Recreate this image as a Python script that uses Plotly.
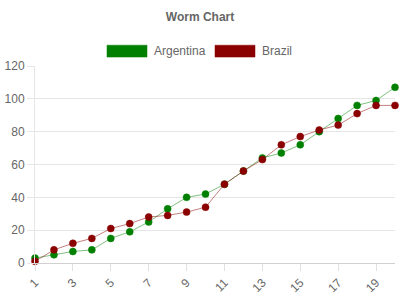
import plotly.graph_objects as go

rounds = list(range(1, 21))
argentina = [3, 5, 7, 8, 15, 19, 25, 33, 40, 42, 48, 56, 64, 67, 72, 80, 88, 96, 99, 107]
brazil = [1, 8, 12, 15, 21, 24, 28, 29, 31, 34, 48, 56, 63, 72, 77, 81, 84, 91, 96, 96]
series = [("Argentina", argentina, "rgb(0,128,0)", "rgba(0,128,0,0.5)"),
          ("Brazil", brazil, "rgb(139,0,0)", "rgba(139,0,0,0.5)")]
x_ticks = list(range(1, 21, 2))
y_ticks = [0, 20, 40, 60, 80, 100, 120]

W, H = 400, 300
ml, mr, mt, mb = 35, 5, 66, 35
pw, ph = W - ml - mr, H - mt - mb

fig = go.Figure()
for name, vals, col, lcol in series:
    fig.add_trace(go.Scatter(
        x=rounds, y=vals, mode="lines+markers", name=name, showlegend=False,
        cliponaxis=False,
        line=dict(color=lcol, width=1),
        marker=dict(size=7, color=col, line=dict(color=lcol, width=1)),
    ))

# custom legend (Chart.js style boxes)
def px(x):
    return (x - ml) / pw
def py(y):
    return (H - mb - y) / ph

shapes = []
annotations = []
legend_items = [("Argentina", 107, "rgb(0,128,0)", "rgba(0,128,0,0.5)"),
                ("Brazil", 215, "rgb(139,0,0)", "rgba(139,0,0,0.5)")]
for name, x0, col, lcol in legend_items:
    shapes.append(dict(type="rect", xref="paper", yref="paper",
                       x0=px(x0), x1=px(x0 + 40), y0=py(57), y1=py(45),
                       fillcolor=col, line=dict(color=lcol, width=1)))
    annotations.append(dict(xref="paper", yref="paper", x=px(x0 + 45), y=py(51),
                            text=name, showarrow=False, xanchor="left", yanchor="middle",
                            font=dict(size=12, color="#666")))

fig.update_layout(
    width=W, height=H,
    margin=dict(l=ml, r=mr, t=mt, b=mb),
    paper_bgcolor="white", plot_bgcolor="white",
    font=dict(family="Liberation Sans, Arial, sans-serif", size=12, color="#666"),
    title=dict(text="<b>Worm Chart</b>", x=0.5, xanchor="center", y=1 - 17 / H, yanchor="middle",
               font=dict(size=12, color="#666")),
    shapes=shapes, annotations=annotations,
    showlegend=False,
)
fig.update_xaxes(range=[1, 20], tickvals=x_ticks, tickangle=-45,
                 showgrid=False, zeroline=False,
                 showline=True, linecolor="#d0d0d0", linewidth=1,
                 ticks="outside", ticklen=7, tickcolor="#e0e0e0",
                 tickfont=dict(size=12, color="#666"))
fig.update_yaxes(range=[0, 120], tickvals=y_ticks,
                 showgrid=True, gridcolor="#e6e6e6", zeroline=False,
                 showline=True, linecolor="#e6e6e6", linewidth=1,
                 ticks="outside", ticklen=7, tickcolor="#e6e6e6",
                 tickfont=dict(size=12, color="#666"))

fig.write_html("out.html")
